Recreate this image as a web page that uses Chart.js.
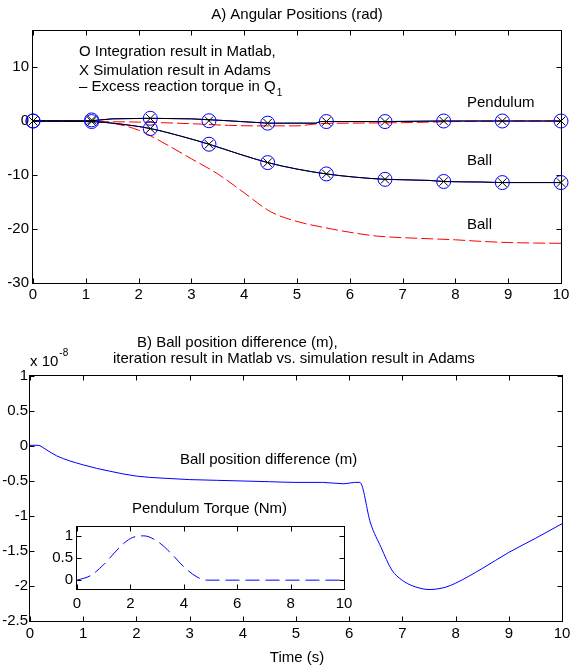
<!DOCTYPE html>
<html><head><meta charset="utf-8">
<script src="https://cdn.jsdelivr.net/npm/chart.js@4.4.1/dist/chart.umd.min.js"></script>
<style>
html,body{margin:0;padding:0;background:#fff;width:570px;height:669px;overflow:hidden}
canvas{position:absolute}
#c1{left:0;top:0;width:570px;height:320px}
#c2{left:0;top:330px;width:570px;height:339px}
#c3{left:40px;top:495px;width:320px;height:120px}
</style></head><body>
<canvas id="c1" width="570" height="320"></canvas>
<canvas id="c2" width="570" height="339"></canvas>
<canvas id="c3" width="320" height="120"></canvas>
<script>
// ---------- DATA ----------
// A) Angular positions (rad)
const markerTimes   = [0, 1.111, 2.222, 3.333, 4.444, 5.556, 6.667, 7.778, 8.889, 10];
const pendMarkers   = [0, 0.2, 0.5, 0.05, -0.4, -0.1, -0.1, 0, 0, 0];
const ballMarkers   = [0, -0.1, -1.4, -4.3, -7.7, -9.8, -10.8, -11.2, -11.4, -11.4];

const pendLineTimes = [0, 1.111, 1.5, 2.222, 3.0, 3.6, 4.444, 5.35, 5.45, 6.667, 7.778, 10];
const pendLineVals  = [0, 0.05, 0.4, 0.5, 0.4, 0.1, -0.4, -0.4, -0.1, -0.1, 0, 0];

const ballLineTimes = [0, 1.111, 1.6, 2.222, 2.8, 3.333, 3.9, 4.444, 5.0, 5.556, 6.1, 6.667, 7.5, 7.778, 8.5, 8.889, 10];
const ballLineVals  = [0, -0.1, -0.5, -1.4, -2.8, -4.3, -6.1, -7.7, -8.9, -9.8, -10.4, -10.8, -11.0, -11.2, -11.3, -11.4, -11.4];

const redPendTimes  = [0, 1, 2, 3, 3.7, 4.2, 5.0, 5.4, 6, 7, 8, 9, 10];
const redPendVals   = [0, -0.1, -0.2, -0.5, -0.8, -0.9, -0.9, -0.5, -0.4, -0.3, -0.1, 0, 0];

const redBallTimes  = [0, 1, 1.5, 2, 2.5, 3, 3.5, 4, 4.5, 5, 5.5, 6, 6.5, 7, 7.5, 8, 8.5, 9, 9.5, 10];
const redBallVals   = [0, -0.1, -0.4, -1.7, -4.2, -7.0, -9.8, -13.3, -16.8, -18.6, -19.7, -20.6, -21.3, -21.6, -21.8, -22.0, -22.3, -22.5, -22.6, -22.65];

const xTicksA = [0,1,2,3,4,5,6,7,8,9,10];
const yTicksA = [-30,-20,-10,0,10];

// B) Ball position difference (x 1e-8 m)
const diffTimes = [0, 0.15, 0.3, 0.5, 1, 1.5, 2, 2.5, 3, 3.5, 4, 4.5, 5, 5.5, 5.9, 6.1, 6.2, 6.4, 6.6, 6.8, 7, 7.2, 7.5, 7.8, 8, 8.5, 9, 9.5, 10];
const diffVals  = [0.01, 0.01, -0.05, -0.14, -0.27, -0.36, -0.43, -0.46, -0.48, -0.49, -0.50, -0.51, -0.52, -0.52, -0.54, -0.52, -0.52, -1.10, -1.45, -1.77, -1.92, -2.0, -2.05, -2.02, -1.96, -1.75, -1.52, -1.32, -1.11];
const xTicksB = [0,1,2,3,4,5,6,7,8,9,10];
const yTicksB = [-2.5,-2,-1.5,-1,-0.5,0,0.5,1];

// Inset: Pendulum torque (Nm)
const torqueTimes = [0, 0.5, 1, 1.5, 2, 2.5, 3, 3.5, 4, 4.5, 4.85, 5, 6, 7, 8, 9, 10];
const torqueVals  = [0, 0.1, 0.35, 0.68, 0.94, 1.0, 0.88, 0.62, 0.3, 0.07, 0, 0, 0, 0, 0, 0, 0];
const xTicksC = [0,2,4,6,8,10];
const yTicksC = [0,0.5,1];

// ---------- HELPERS ----------
const FONT = '"Liberation Sans", Arial, Helvetica, sans-serif';
function pts(xs, ys){ return xs.map((x,i)=>({x:x, y:ys[i]})); }

function axes(o){
  return {
    x:{type:'linear', min:o.xmin, max:o.xmax,
       afterBuildTicks:s=>{ s.ticks = o.xt.map(v=>({value:v})); },
       afterFit:s=>{ s.height = o.xh; s.paddingLeft = 0; s.paddingRight = 0; },
       grid:{display:false, drawTicks:false}, border:{display:false},
       ticks:{padding:o.xpad, color:'#000', font:{family:FONT, size:15}, maxRotation:0, autoSkip:false, callback:v=>String(v)}},
    y:{type:'linear', min:o.ymin, max:o.ymax,
       afterBuildTicks:s=>{ s.ticks = o.yt.map(v=>({value:v})); },
       afterFit:s=>{ s.width = o.yw; s.paddingTop = 0; s.paddingBottom = 0; },
       grid:{display:false, drawTicks:false}, border:{display:false},
       ticks:{padding:o.ypad, color:'#000', font:{family:FONT, size:15}, autoSkip:false, callback:v=>String(v)}}
  };
}

function framePlugin(texts){
  return {
    id:'frame',
    beforeDatasetsDraw(chart){
      const ctx = chart.ctx, a = chart.chartArea, x = chart.scales.x, y = chart.scales.y;
      ctx.save();
      ctx.strokeStyle = '#000'; ctx.lineWidth = 1;
      const L = Math.round(a.left)-0.5, R = Math.round(a.right)+0.5, T = Math.round(a.top)-0.5, B = Math.round(a.bottom)+0.5;
      ctx.fillStyle = '#fff';
      ctx.fillRect(L, T, R-L, B-T);
      ctx.strokeRect(L, T, R-L, B-T);
      ctx.beginPath();
      x.ticks.forEach(t=>{ const p = Math.round(x.getPixelForValue(t.value))+0.5;
        ctx.moveTo(p,B); ctx.lineTo(p,B-5); ctx.moveTo(p,T); ctx.lineTo(p,T+5); });
      y.ticks.forEach(t=>{ const p = Math.round(y.getPixelForValue(t.value))+0.5;
        ctx.moveTo(L,p); ctx.lineTo(L+5,p); ctx.moveTo(R,p); ctx.lineTo(R-5,p); });
      ctx.stroke();
      ctx.restore();
    },
    afterDraw(chart){
      const ctx = chart.ctx;
      ctx.save();
      ctx.fillStyle = '#000';
      ctx.textBaseline = 'middle';
      texts.forEach(t=>{
        ctx.font = (t.size||15)+'px '+FONT;
        ctx.textAlign = t.align||'left';
        ctx.fillText(t.t, t.x, t.y);
        if (t.sub || t.sup){
          const w = ctx.measureText(t.t).width;
          const sx = (t.align==='center') ? t.x + w/2 : t.x + w;
          ctx.font = '10px '+FONT; ctx.textAlign = 'left';
          if (t.sub) ctx.fillText(t.sub, sx+1, t.y+6);
          if (t.sup) ctx.fillText(t.sup, sx+1, t.y-9);
        }
      });
      ctx.restore();
    }
  };
}

const common = {responsive:false, animation:false, devicePixelRatio:1,
  plugins:{legend:{display:false}, tooltip:{enabled:false}}};

function line(data, color, dash, smooth){
  const d = {data:data, borderColor:color, borderWidth:1, borderDash:dash||[], pointRadius:0, fill:false, tension:0};
  if (smooth) d.cubicInterpolationMode = 'monotone';
  return d;
}
function markers(data, style, color, r){
  return {data:data, showLine:false, pointStyle:style, pointRadius:r, pointBorderColor:color,
          pointBackgroundColor:'rgba(0,0,0,0)', pointBorderWidth:1, borderColor:color, clip:false};
}

// ---------- CHART A ----------
new Chart(document.getElementById('c1'), {
  type:'line',
  data:{datasets:[
    markers(pts(markerTimes, pendMarkers), 'crossRot', '#000', 6),
    markers(pts(markerTimes, ballMarkers), 'crossRot', '#000', 6),
    markers(pts(markerTimes, pendMarkers), 'circle', '#0000ff', 7),
    markers(pts(markerTimes, ballMarkers), 'circle', '#0000ff', 7),
    line(pts(pendLineTimes, pendLineVals), '#000'),
    line(pts(ballLineTimes, ballLineVals), '#000', null, true),
    line(pts(pendLineTimes, pendLineVals), '#0000ff'),
    line(pts(ballLineTimes, ballLineVals), '#0000ff', null, true),
    line(pts(redPendTimes, redPendVals), '#ff0000', [12,4], true),
    line(pts(redBallTimes, redBallVals), '#ff0000', [12,4], true)
  ]},
  options:Object.assign({}, common, {
    layout:{padding:{left:0, top:31, right:9, bottom:0}},
    scales:axes({xmin:0, xmax:10, xt:xTicksA, ymin:-30, ymax:16.67, yt:yTicksA, yw:33, xh:37, xpad:3, ypad:4})
  }),
  plugins:[framePlugin([
    {t:'A) Angular Positions (rad)', x:297, y:15, align:'center'},
    {t:'O Integration result in Matlab,', x:79, y:52},
    {t:'X Simulation result in Adams', x:79, y:71},
    {t:'\u2013 Excess reaction torque in Q', x:79, y:87, sub:'1'},
    {t:'Pendulum', x:467, y:103},
    {t:'Ball', x:467, y:161},
    {t:'Ball', x:467, y:225}
  ])]
});

// ---------- CHART B ----------
new Chart(document.getElementById('c2'), {
  type:'line',
  data:{datasets:[ line(pts(diffTimes, diffVals), '#0000ff', null, true) ]},
  options:Object.assign({}, common, {
    layout:{padding:{left:0, top:46, right:8, bottom:0}},
    scales:axes({xmin:0, xmax:10, xt:xTicksB, ymin:-2.5, ymax:1, yt:yTicksB, yw:30, xh:48, xpad:4, ypad:2})
  }),
  plugins:[framePlugin([
    {t:'B) Ball position difference (m),', x:137, y:13},
    {t:'iteration result in Matlab vs. simulation result in Adams', x:113, y:29},
    {t:'x 10', x:30, y:32, sup:'-8'},
    {t:'Ball position difference (m)', x:180, y:130},
    {t:'Time (s)', x:297, y:328, align:'center'}
  ])]
});

// ---------- INSET ----------
new Chart(document.getElementById('c3'), {
  type:'line',
  data:{datasets:[ line(pts(torqueTimes, torqueVals), '#0000ff', [14,6], true) ]},
  options:Object.assign({}, common, {
    layout:{padding:{left:0, top:32, right:16, bottom:0}},
    scales:axes({xmin:0, xmax:10, xt:xTicksC, ymin:-0.2, ymax:1.2, yt:yTicksC, yw:37, xh:26, xpad:6, ypad:4})
  }),
  plugins:[framePlugin([
    {t:'Pendulum Torque (Nm)', x:92, y:14}
  ])]
});
</script>
</body></html>
